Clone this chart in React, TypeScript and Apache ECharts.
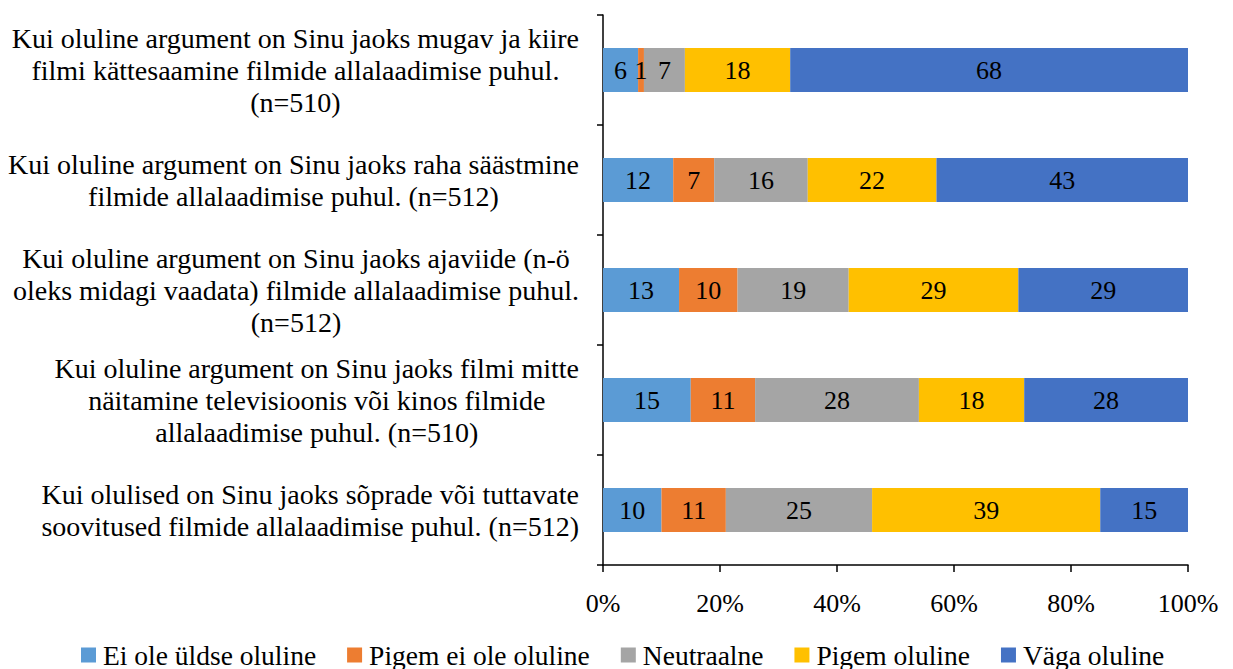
import React, { useEffect, useRef } from "react";
import * as echarts from "echarts";

const categories: string[][] = [
  ["Kui oluline argument on Sinu jaoks mugav ja kiire", "filmi kättesaamine filmide allalaadimise puhul.", "(n=510)"],
  ["Kui oluline argument on Sinu jaoks raha säästmine", "filmide allalaadimise puhul. (n=512)"],
  ["Kui oluline argument on Sinu jaoks ajaviide (n-ö", "oleks midagi vaadata) filmide allalaadimise puhul.", "(n=512)"],
  ["Kui oluline argument on Sinu jaoks filmi mitte", "näitamine televisioonis või kinos filmide", "allalaadimise puhul. (n=510)"],
  ["Kui olulised on Sinu jaoks sõprade või tuttavate", "soovitused filmide allalaadimise puhul. (n=512)"],
];

const seriesNames = [
  "Ei ole üldse oluline",
  "Pigem ei ole oluline",
  "Neutraalne",
  "Pigem oluline",
  "Väga oluline",
];

const eiOleUldseOluline = [6, 12, 13, 15, 10];
const pigemEiOleOluline = [1, 7, 10, 11, 11];
const neutraalne = [7, 16, 19, 28, 25];
const pigemOluline = [18, 22, 29, 18, 39];
const vagaOluline = [68, 43, 29, 28, 15];

const xTicks = [0, 20, 40, 60, 80, 100];

const colors = ["#5B9BD5", "#ED7D31", "#A5A5A5", "#FFC000", "#4472C4"];

const FONT = "Liberation Serif";

export default function App() {
  const ref = useRef<HTMLDivElement>(null);
  useEffect(() => {
    if (!ref.current) return;
    const chart = echarts.init(ref.current, undefined, { renderer: "svg" });
    const values = [eiOleUldseOluline, pigemEiOleOluline, neutraalne, pigemOluline, vagaOluline];
    const catKeys = categories.map((_, i) => "c" + i);
    chart.setOption({
      animation: false,
      textStyle: { fontFamily: FONT },
      color: colors,
      grid: {
        left: 603,
        right: 45,
        top: 15,
        bottom: 104,
        containLabel: false,
        outerBoundsMode: "none",
      },
      legend: {
        data: seriesNames,
        top: 641,
        left: 81,
        padding: 0,
        icon: "rect",
        itemWidth: 15,
        itemHeight: 15,
        itemGap: 31,
        textStyle: {
          fontFamily: FONT,
          fontSize: 27.5,
          lineHeight: 28,
          color: "#000",
          padding: [0, 0, 0, 2],
        },
      },
      xAxis: {
        type: "value",
        min: xTicks[0],
        max: xTicks[xTicks.length - 1],
        interval: 20,
        axisLine: { show: true, lineStyle: { color: "#000", width: 1.5 } },
        axisTick: { show: true, length: 7, lineStyle: { color: "#000", width: 1.5 } },
        splitLine: { show: false },
        axisLabel: {
          formatter: (v: number) => v + "%",
          fontFamily: FONT,
          fontSize: 26,
          color: "#000",
          margin: 25,
        },
      },
      yAxis: {
        type: "category",
        inverse: true,
        data: catKeys,
        axisLine: { show: true, lineStyle: { color: "#000", width: 1.5 } },
        axisTick: { show: true, length: 6, lineStyle: { color: "#000", width: 1.5 } },
        axisLabel: {
          margin: 24,
          fontFamily: FONT,
          formatter: (v: string) => {
            const idx = catKeys.indexOf(v);
            return categories[idx].map((l) => "{c|" + l + "}").join("\n");
          },
          rich: {
            c: {
              align: "center",
              fontFamily: FONT,
              fontSize: 28,
              lineHeight: 32,
              color: "#000",
            },
          },
        },
      },
      series: seriesNames.map((name, si) => ({
        name,
        type: "bar",
        stack: "total",
        barWidth: "40%",
        data: values[si],
        itemStyle: { color: colors[si] },
        label: {
          show: true,
          position: "inside",
          formatter: "{c}",
          color: "#000",
          fontFamily: FONT,
          fontSize: 26,
          textBorderWidth: 0,
        },
      })),
    });
    return () => chart.dispose();
  }, []);
  return (
    <div
      ref={ref}
      style={{ position: "fixed", left: 0, top: 0, width: 1233, height: 669, background: "#fff" }}
    />
  );
}
